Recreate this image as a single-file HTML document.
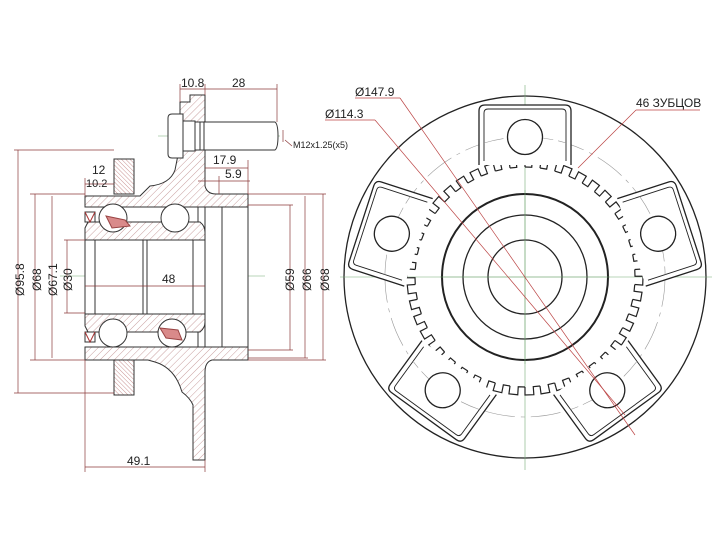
<!DOCTYPE html>
<html><head><meta charset="utf-8"><style>
html,body{margin:0;padding:0;background:#fff;}
svg{display:block;}
text{font-family:"Liberation Sans","DejaVu Sans",sans-serif;fill:#222;}
</style></head><body>
<svg width="728" height="546" viewBox="0 0 728 546" xmlns="http://www.w3.org/2000/svg" xmlns:xlink="http://www.w3.org/1999/xlink">
<defs>
<pattern id="h" patternUnits="userSpaceOnUse" width="5" height="5" patternTransform="rotate(45)">
<rect width="5" height="5" fill="#fff"/><line x1="0" y1="0" x2="0" y2="5" stroke="#b88" stroke-width="0.8"/></pattern>
<pattern id="h2" patternUnits="userSpaceOnUse" width="3" height="3" patternTransform="rotate(-45)">
<rect width="3" height="3" fill="#fff"/><line x1="0" y1="0" x2="0" y2="3" stroke="#b77" stroke-width="0.8"/></pattern>
<path id="t" d="M0 -110 L6.76 -109.79 L7.25 -117.78 L16.07 -116.9 L14.98 -108.98" fill="none" stroke="#222" stroke-width="1.2"/>
<g id="lug">
<path d="M-46 -112 L-46 -166 Q-46 -172 -40 -172 L40 -172 Q46 -172 46 -166 L46 -112" fill="#fff" stroke="#222" stroke-width="1.3"/>
<path d="M-41 -116 L-41 -164 Q-41 -168 -37 -168 L37 -168 Q41 -168 41 -164 L41 -116" fill="none" stroke="#222" stroke-width="0.9"/>
<path d="M-41 -134 A140 140 0 0 1 41 -134" fill="none" stroke="#999" stroke-width="0.6" stroke-dasharray="20 5"/>
<circle cx="0" cy="-140" r="17.5" fill="#fff" stroke="#222" stroke-width="1.3"/>
</g>
</defs>
<g stroke="#333" stroke-width="1" fill="none">
<line x1="60" y1="276" x2="265" y2="276" stroke="#7a7" stroke-width="0.6"/>
<line x1="158" y1="136" x2="280" y2="136" stroke="#7a7" stroke-width="0.6"/>
<path d="M85 196 L140 196 L150 186 Q170 184 175 170 L178 155 L180 150 L180 102 L190 102 L190 95 L205 95 L205 186 Q207 194 216 194 L248 194 L248 207 L85 207 Z" fill="url(#h)"/>
<path d="M85 347 L248 347 L248 360 L212 360 Q205 362 205 372 L205 460 L193 460 L193 405 Q190 398 182 392 Q175 368 155 362 L148 360 L85 360 Z" fill="url(#h)"/>
<rect x="114" y="159" width="20" height="35" fill="url(#h2)"/>
<rect x="114" y="360" width="20" height="35" fill="url(#h2)"/>
<path d="M168 118 Q168 114 172 114 L183 114 L183 158 L172 158 Q168 158 168 154 Z" fill="#fff"/>
<rect x="183" y="121" width="12" height="30" fill="#fff"/>
<path d="M195 122 L275 122 Q278 124 278 136 Q278 148 275 150 L195 150 Z" fill="#fff"/>
<line x1="200" y1="122" x2="200" y2="150"/><line x1="204" y1="122" x2="204" y2="150"/>
<path d="M88 222 L200 222 Q205 226 205 232 L205 240 L85 240 L85 228 Z" fill="url(#h)"/>
<path d="M85 314 L205 314 L205 322 Q205 328 200 332 L88 332 L85 326 Z" fill="url(#h)"/>
<rect x="85" y="240" width="120" height="74" fill="#fff"/>
<line x1="95" y1="240" x2="95" y2="314"/><line x1="143" y1="240" x2="143" y2="314"/><line x1="147" y1="240" x2="147" y2="314"/><line x1="193" y1="240" x2="193" y2="314"/>
<rect x="205" y="207" width="43" height="140" fill="#fff"/>
<line x1="222" y1="207" x2="222" y2="347"/>
<line x1="198" y1="207" x2="198" y2="222"/><line x1="198" y1="332" x2="198" y2="347"/>
<circle cx="113" cy="218" r="14" fill="#fff"/><circle cx="175" cy="218" r="14" fill="#fff"/>
<circle cx="113" cy="333" r="14" fill="#fff"/><circle cx="172" cy="333" r="14" fill="#fff"/>
<path d="M106 216 L125 220 L130 226 L112 228 Z" fill="#d98a8a" stroke="#944"/>
<path d="M160 328 L178 330 L182 340 L166 338 Z" fill="#d98a8a" stroke="#944"/>
<path d="M85 212 L95 212 L95 222 L85 222 Z" fill="#fff"/><path d="M85 332 L95 332 L95 342 L85 342 Z" fill="#fff"/>
<path d="M85 212 L90 222 L95 212 M85 332 L90 342 L95 332" stroke="#a33"/>
</g>
<g stroke="#8b3a3a" stroke-width="0.7" fill="none">
<line x1="18" y1="150" x2="18" y2="393"/><line x1="14" y1="150" x2="114" y2="150"/><line x1="14" y1="393" x2="114" y2="393"/>
<line x1="35" y1="194" x2="35" y2="360"/><line x1="30" y1="194" x2="85" y2="194"/><line x1="30" y1="360" x2="85" y2="360"/>
<line x1="52" y1="196" x2="52" y2="358"/>
<line x1="67" y1="240" x2="67" y2="313"/><line x1="64" y1="240" x2="85" y2="240"/><line x1="64" y1="313" x2="85" y2="313"/>
<line x1="290" y1="205" x2="290" y2="350"/><line x1="248" y1="205" x2="293" y2="205"/><line x1="248" y1="350" x2="293" y2="350"/>
<line x1="305" y1="196" x2="305" y2="358"/><line x1="248" y1="358" x2="308" y2="358"/>
<line x1="323" y1="194" x2="323" y2="360"/><line x1="248" y1="194" x2="326" y2="194"/><line x1="248" y1="360" x2="326" y2="360"/>
<line x1="180" y1="89" x2="277" y2="89"/><line x1="180" y1="84" x2="180" y2="102"/><line x1="205" y1="84" x2="205" y2="95"/><line x1="277" y1="84" x2="277" y2="122"/>
<line x1="205" y1="168" x2="248" y2="168"/><line x1="248" y1="160" x2="248" y2="194"/>
<line x1="198" y1="181" x2="250" y2="181"/><line x1="219" y1="176" x2="219" y2="194"/>
<line x1="85" y1="184" x2="114" y2="184"/><line x1="85" y1="178" x2="85" y2="196"/>
<line x1="85" y1="286" x2="205" y2="286"/>
<line x1="85" y1="467" x2="205" y2="467"/><line x1="85" y1="360" x2="85" y2="472"/><line x1="205" y1="460" x2="205" y2="472"/>
<line x1="283" y1="130" x2="283" y2="142"/><line x1="285" y1="140" x2="292" y2="146"/>
</g>
<g font-size="12">
<text x="181" y="87">10.8</text><text x="232" y="87">28</text>
<text x="92" y="174">12</text><text x="86" y="187" font-size="11">10.2</text>
<text x="213" y="164">17.9</text><text x="225" y="178">5.9</text>
<text x="162" y="283">48</text><text x="127" y="465">49.1</text>
<text x="293" y="148" font-size="9">M12x1.25(x5)</text>
<g transform="rotate(-90)">
<text x="-296" y="24">Ø95.8</text><text x="-291" y="41">Ø68</text><text x="-296" y="57">Ø67.1</text><text x="-291" y="72">Ø30</text>
<text x="-291" y="294">Ø59</text><text x="-291" y="311">Ø66</text><text x="-291" y="329">Ø68</text>
</g>
<text x="355" y="96">Ø147.9</text><text x="325" y="118">Ø114.3</text><text x="636" y="107">46 ЗУБЦОВ</text>
</g>
<g stroke="#222" fill="none">
<circle cx="525" cy="277" r="181" stroke-width="1.3"/>
<circle cx="525" cy="277" r="140" stroke="#999" stroke-width="0.6" stroke-dasharray="30 6 4 6"/>
<line x1="340" y1="277" x2="712" y2="277" stroke="#7a7" stroke-width="0.6"/>
<line x1="525" y1="85" x2="525" y2="470" stroke="#7a7" stroke-width="0.6"/>
</g>
<g transform="translate(525 277)">
<use xlink:href="#t" transform="rotate(0)"/><use xlink:href="#t" transform="rotate(7.826)"/><use xlink:href="#t" transform="rotate(15.652)"/><use xlink:href="#t" transform="rotate(23.478)"/><use xlink:href="#t" transform="rotate(31.304)"/><use xlink:href="#t" transform="rotate(39.13)"/><use xlink:href="#t" transform="rotate(46.957)"/><use xlink:href="#t" transform="rotate(54.783)"/><use xlink:href="#t" transform="rotate(62.609)"/><use xlink:href="#t" transform="rotate(70.435)"/><use xlink:href="#t" transform="rotate(78.261)"/><use xlink:href="#t" transform="rotate(86.087)"/><use xlink:href="#t" transform="rotate(93.913)"/><use xlink:href="#t" transform="rotate(101.739)"/><use xlink:href="#t" transform="rotate(109.565)"/><use xlink:href="#t" transform="rotate(117.391)"/><use xlink:href="#t" transform="rotate(125.217)"/><use xlink:href="#t" transform="rotate(133.043)"/><use xlink:href="#t" transform="rotate(140.87)"/><use xlink:href="#t" transform="rotate(148.696)"/><use xlink:href="#t" transform="rotate(156.522)"/><use xlink:href="#t" transform="rotate(164.348)"/><use xlink:href="#t" transform="rotate(172.174)"/><use xlink:href="#t" transform="rotate(180)"/><use xlink:href="#t" transform="rotate(187.826)"/><use xlink:href="#t" transform="rotate(195.652)"/><use xlink:href="#t" transform="rotate(203.478)"/><use xlink:href="#t" transform="rotate(211.304)"/><use xlink:href="#t" transform="rotate(219.13)"/><use xlink:href="#t" transform="rotate(226.957)"/><use xlink:href="#t" transform="rotate(234.783)"/><use xlink:href="#t" transform="rotate(242.609)"/><use xlink:href="#t" transform="rotate(250.435)"/><use xlink:href="#t" transform="rotate(258.261)"/><use xlink:href="#t" transform="rotate(266.087)"/><use xlink:href="#t" transform="rotate(273.913)"/><use xlink:href="#t" transform="rotate(281.739)"/><use xlink:href="#t" transform="rotate(289.565)"/><use xlink:href="#t" transform="rotate(297.391)"/><use xlink:href="#t" transform="rotate(305.217)"/><use xlink:href="#t" transform="rotate(313.043)"/><use xlink:href="#t" transform="rotate(320.87)"/><use xlink:href="#t" transform="rotate(328.696)"/><use xlink:href="#t" transform="rotate(336.522)"/><use xlink:href="#t" transform="rotate(344.348)"/><use xlink:href="#t" transform="rotate(352.174)"/>
<use xlink:href="#lug" transform="rotate(0)"/><use xlink:href="#lug" transform="rotate(72)"/><use xlink:href="#lug" transform="rotate(144)"/><use xlink:href="#lug" transform="rotate(216)"/><use xlink:href="#lug" transform="rotate(288)"/>
</g>
<g stroke="#222" fill="none">
<circle cx="525" cy="277" r="83" stroke-width="2"/>
<circle cx="525" cy="277" r="62" stroke-width="1.3"/>
<circle cx="525" cy="277" r="37" stroke-width="1.3"/>
<line x1="525" y1="190" x2="525" y2="364" stroke="#7a7" stroke-width="0.6"/>
<line x1="440" y1="277" x2="610" y2="277" stroke="#7a7" stroke-width="0.6"/>
</g>
<g stroke="#b44" stroke-width="0.7" fill="none">
<line x1="355" y1="98" x2="400" y2="98"/><line x1="400" y1="98" x2="635" y2="435"/>
<line x1="325" y1="120" x2="375" y2="120"/><line x1="375" y1="120" x2="625" y2="415"/>
<line x1="636" y1="110" x2="700" y2="110"/><line x1="636" y1="110" x2="578" y2="168"/>
</g>
</svg>
</body></html>
